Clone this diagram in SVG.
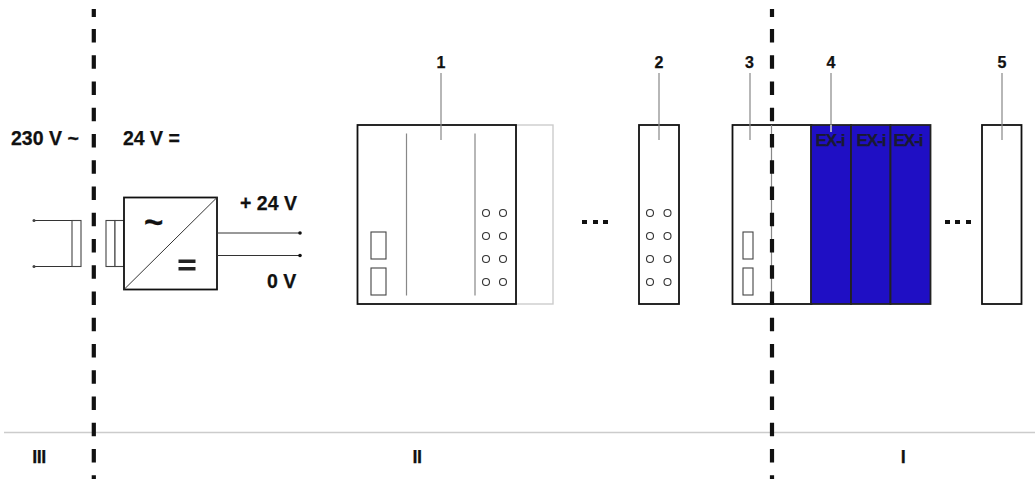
<svg xmlns="http://www.w3.org/2000/svg" width="1035" height="479" viewBox="0 0 1035 479">
<style>
text{font-family:"Liberation Sans",Arial,sans-serif;font-weight:bold;fill:#111;stroke:#111;stroke-width:.25}
.b{font-size:19.5px}.n{font-size:16px;text-anchor:middle}
.r{font-size:18px;text-anchor:middle;letter-spacing:-.5px}
.box{fill:#fff;stroke:#111;stroke-width:1.8}
.blue{fill:#1f0fc4;stroke:#222;stroke-width:1.8}
.ln{fill:none;stroke:#333;stroke-width:1}
.lead{fill:none;stroke:#888;stroke-width:1.2}
.div{fill:none;stroke:#111;stroke-width:4.200}
.dash{stroke-dasharray:13.500 12.750}
.led{fill:#fff;stroke:#333;stroke-width:1.1}
.sq{fill:#fff;stroke:#444;stroke-width:1.1}
.ex{font-size:17px;letter-spacing:-1px;fill:#1a1a30;stroke:#1a1a30;text-anchor:middle}
.dot{fill:#111}
</style>
<line x1="4" y1="432.500" x2="1035" y2="432.500" stroke="#ccc" stroke-width="1.500"/>
<g id="supply-in">
<path class="ln" d="M34 220.500H72M34 266.500H72"/>
<rect class="sq" x="72" y="220.500" width="9" height="46"/>
<circle cx="34" cy="220.500" r="1.500" fill="#444"/><circle cx="34" cy="266.500" r="1.500" fill="#444"/>
</g>
<g id="supply">
<rect class="sq" x="106" y="220.500" width="9" height="46"/>
<rect class="sq" x="115" y="220.500" width="9" height="46"/>
<rect class="box" x="124" y="197.500" width="93" height="92"/>
<path d="M124 289.500L217 197.500" class="ln" stroke-width="1.200"/>
<text x="144" y="233" style="font-size:33px">~</text>
<rect x="178.500" y="259.500" width="17" height="3.500" fill="#222"/><rect x="178.500" y="267" width="17" height="3.500" fill="#222"/>
<path class="ln" d="M217 233H300M217 255.500H300"/>
<circle class="dot" cx="300" cy="233" r="1.800"/><circle class="dot" cx="300" cy="255.500" r="1.800"/>
</g>
<g id="module-1">
<rect x="516" y="125" width="37" height="179" fill="#fff" stroke="#ccc" stroke-width="1.400"/>
<rect class="box" x="357.500" y="125" width="158.500" height="179"/>
<path class="lead" d="M406.500 133.500V295.500M475 133.500V295.500"/>
<rect class="sq" x="371" y="232" width="15" height="27"/><rect class="sq" x="371" y="268" width="15" height="27"/>
<g class="led"><circle cx="486" cy="213" r="3.500"/><circle cx="503" cy="213" r="3.500"/><circle cx="486" cy="236" r="3.500"/><circle cx="503" cy="236" r="3.500"/><circle cx="486" cy="259" r="3.500"/><circle cx="503" cy="259" r="3.500"/><circle cx="486" cy="282" r="3.500"/><circle cx="503" cy="282" r="3.500"/></g>
</g>
<g id="module-2">
<rect class="box" x="639" y="125" width="40" height="179"/>
<g class="led"><circle cx="650" cy="213" r="3.500"/><circle cx="667.500" cy="213" r="3.500"/><circle cx="650" cy="236" r="3.500"/><circle cx="667.500" cy="236" r="3.500"/><circle cx="650" cy="259" r="3.500"/><circle cx="667.500" cy="259" r="3.500"/><circle cx="650" cy="282" r="3.500"/><circle cx="667.500" cy="282" r="3.500"/></g>
</g>
<g id="module-3">
<rect class="box" x="732.500" y="125" width="79" height="179"/>
<path class="lead" d="M771.500 125V304"/>
<rect class="sq" x="743" y="232" width="10" height="27"/><rect class="sq" x="743" y="268" width="10" height="27"/>
</g>
<g id="module-4">
<rect class="blue" x="811" y="125" width="40" height="179"/><rect class="blue" x="851" y="125" width="39.500" height="179"/><rect class="blue" x="890.500" y="125" width="40" height="179"/>
<text class="ex" x="830" y="146">EX-i</text><text class="ex" x="871" y="146">EX-i</text><text class="ex" x="908" y="146">EX-i</text>
</g>
<g id="module-5"><rect class="box" x="982" y="125" width="39.500" height="179"/></g>
<g id="dots" fill="#111">
<rect x="582" y="220" width="5" height="4"/><rect x="593" y="220" width="5" height="4"/><rect x="603" y="220" width="5" height="4"/>
<rect x="945" y="220" width="5" height="4"/><rect x="955" y="220" width="5" height="4"/><rect x="966" y="220" width="5" height="4"/>
</g>
<g id="connectors">
<path class="div" d="M93.800 9V17M772 9V17"/>
<path class="div dash" d="M93.800 29V479M772 29V479"/>
<path class="lead" d="M441 73V140M659 73V140M750 73V140M831 73V132M1002 73V140"/>
<path d="M831 125V132" stroke="#ddd" stroke-width="1.200"/>
</g>
<g id="labels">
<text class="n" x="441" y="68">1</text><text class="n" x="659" y="68">2</text><text class="n" x="749.500" y="68">3</text><text class="n" x="831" y="68">4</text><text class="n" x="1002" y="68">5</text>
<text class="b" x="11" y="145">230 V ~</text><text class="b" x="123" y="145">24 V =</text>
<text class="b" x="240" y="210">+ 24 V</text><text class="b" x="267" y="288">0 V</text>
<text class="r" x="39" y="462.500">III</text><text class="r" x="417" y="462.500">II</text><text class="r" x="903" y="462.500">I</text>
</g>
</svg>
